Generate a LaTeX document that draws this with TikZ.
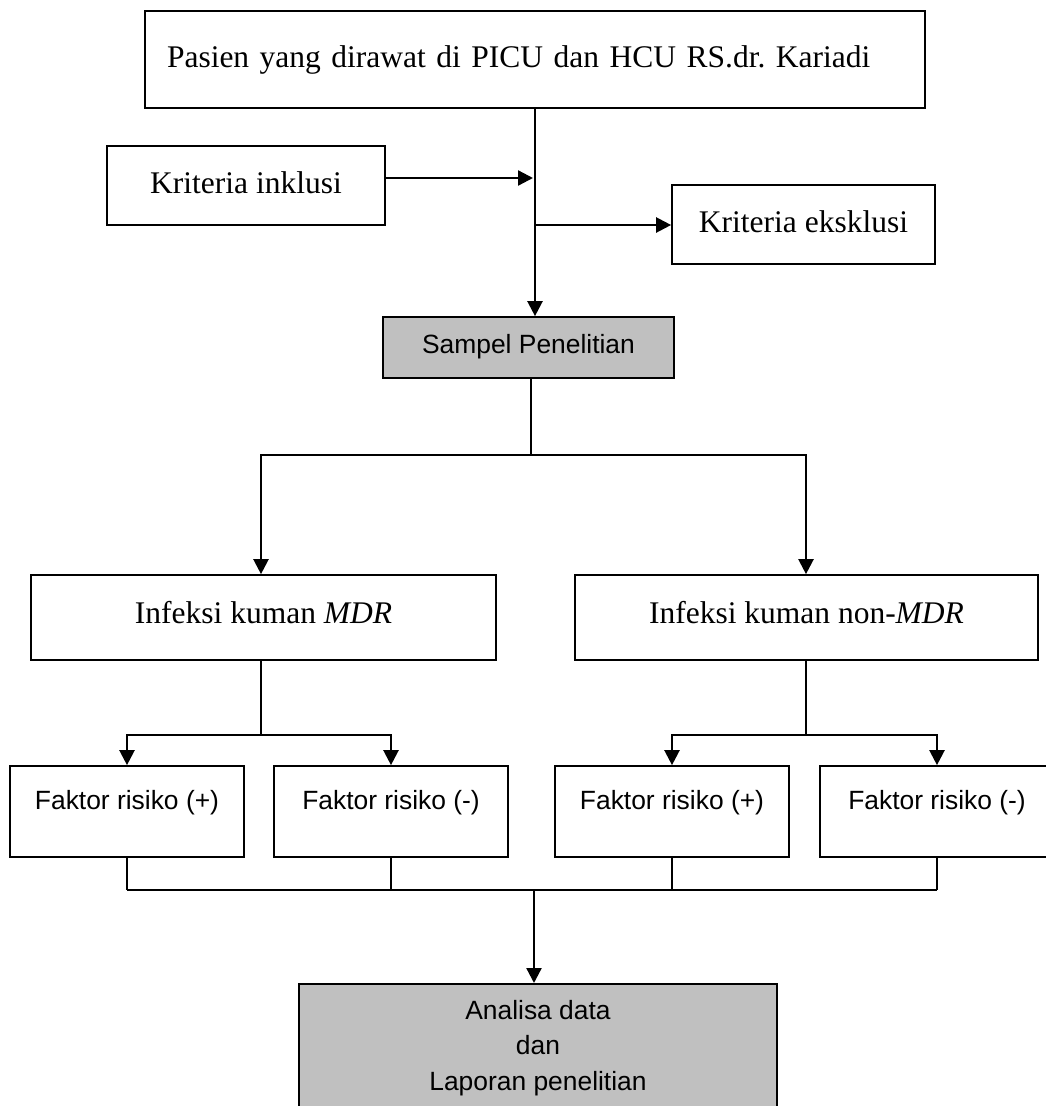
\documentclass[tikz,border=0pt]{standalone}
\usepackage{fontspec}
\setmainfont{Liberation Serif}
\newfontfamily\arialf{Liberation Sans}
\usetikzlibrary{arrows.meta}
\definecolor{boxgray}{RGB}{192,192,192}
\newcommand\serifbig{\fontsize{31.5}{36}\selectfont\frenchspacing}
\newcommand\sansmid{\arialf\fontsize{26.4}{35.5}\selectfont}
\begin{document}
\begin{tikzpicture}[x=1pt,y=-1pt,
  box/.style={draw=black, line width=1.7pt, rectangle, inner sep=0pt, font=\serifbig, text height=22pt, text depth=7pt},
  sbox/.style={draw=black, line width=1.7pt, rectangle, inner sep=0pt, font=\sansmid},
  fbox/.style={sbox, minimum width=234pt, minimum height=91pt, text height=19pt, text depth=24pt},
  arr/.style={-{Triangle[length=15pt,width=15pt]}, line width=2.3pt},
  ln/.style={line width=1.6pt}
]
\useasboundingbox (0,0) rectangle (1046,1106);
\clip (0,0) rectangle (1046,1106);
\fill[white] (0,0) rectangle (1046,1106);

% boxes
\node[box, minimum height=97pt, text width=736pt, inner xsep=22pt, align=left] (top) at (535,59.5)
  {Pasien yang dirawat di PICU dan HCU RS.dr. Kariadi};
\node[box, minimum width=278pt, minimum height=79pt] (inkl) at (246,185.5) {Kriteria inklusi};
\node[box, minimum width=263pt, minimum height=79pt] (eks) at (803.5,224.5) {Kriteria eksklusi};
\node[sbox, fill=boxgray, minimum width=291pt, minimum height=61pt, text height=19pt, text depth=8pt] (samp) at (528.5,347.5) {Sampel Penelitian};
\node[box, minimum width=465pt, minimum height=85pt, text depth=11pt] (mdr) at (263.5,617.5) {Infeksi kuman \textit{MDR}};
\node[box, minimum width=463pt, minimum height=85pt, text depth=11pt] (nm) at (806.5,617.5) {Infeksi kuman non-\textit{MDR}};
\node[fbox] (f1) at (127,811.5) {Faktor risiko (+)};
\node[fbox] (f2) at (391,811.5) {Faktor risiko (-)};
\node[fbox] (f3) at (672,811.5) {Faktor risiko (+)};
\node[fbox] (f4) at (937,811.5) {Faktor risiko (-)};
\node[sbox, fill=boxgray, anchor=north, minimum width=478pt, inner ysep=16.5pt, align=center] (bot) at (538,983)
  {Analisa data\\dan\\Laporan penelitian};

% junction coordinates
\coordinate (j1) at (534,178);
\coordinate (j2) at (534,225);
\coordinate (b1) at (531,455);
\coordinate (b2) at (261,735);
\coordinate (b3) at (806,735);
\coordinate (b4) at (534,890);

% connectors
\draw[arr] (top.south) -- (top.south |- samp.north);
\draw[arr] ([yshift=7.5pt]inkl.east) -- ([xshift=-1pt]j1);
\draw[arr] (j2) -- (eks.west |- j2);
\draw[ln] (samp.south -| b1) -- (b1);
\draw[arr] (b1) -| (mdr.north -| b2);
\draw[arr] (b1) -| (nm.north -| b3);
\draw[ln] (mdr.south -| b2) -- (b2);
\draw[arr] (b2) -| (f1.north);
\draw[arr] (b2) -| (f2.north);
\draw[ln] (nm.south -| b3) -- (b3);
\draw[arr] (b3) -| (f3.north);
\draw[arr] (b3) -| (f4.north);
\draw[ln] (f1.south) -- (f1.south |- b4);
\draw[ln] (f2.south) -- (f2.south |- b4);
\draw[ln] (f3.south) -- (f3.south |- b4);
\draw[ln] (f4.south) -- (f4.south |- b4);
\draw[ln] (f1.south |- b4) -- (f4.south |- b4);
\draw[arr] (b4) -- (b4 |- bot.north);
\end{tikzpicture}
\end{document}
